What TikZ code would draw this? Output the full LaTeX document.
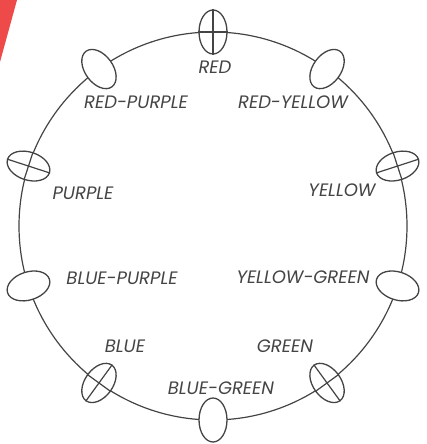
\documentclass[tikz,border=0pt]{standalone}
\usepackage{fontspec}
\setsansfont{Poppins}
\usepackage{tikz}
\usetikzlibrary{calc,shapes.geometric}
\definecolor{ink}{HTML}{444444}
\definecolor{hue}{HTML}{EE4A4A}

\begin{document}
\begin{tikzpicture}[x=1pt,y=-1pt,
    hoop/.style={draw=ink,line width=1.3pt,fill=white,ellipse,inner sep=0pt,
                 minimum width=44pt,minimum height=28pt},
    bar/.style={draw=ink,line width=1.2pt},
    huelabel/.style={text=ink,font=\sffamily\fontsize{18}{20}\selectfont\itshape,inner sep=0pt}]
        % wheel of ten hues, 36 degrees apart, centre (213,226), radius 194
        % (y points down here, so the position angles are turned round)
        \useasboundingbox (0,0) rectangle (427,444);
        \fill[hue] (0,0) -- (17,0) -- (0,62) -- cycle;

        \coordinate (O) at (213,226);
        \draw[draw=ink,line width=1.2pt] (O) circle (194);

        % the ellipses, long axis along the radius
        \foreach \a/\n in {90/r,54/ry,18/y,-18/yg,-54/g,-90/bg,-126/b,-162/bp,162/p,126/rp}
            \node[hoop,rotate=\a] (\n) at ($(O)+({-\a}:194)$) {};

        % primaries are crossed
        \foreach \n in {r,y,g,b,p}
            \draw[bar] (\n.north) -- (\n.south) (\n.east) -- (\n.west);

        \node[huelabel] (lr)  at (215,67)  {RED};
        \node[huelabel] (lrp) at (136,102) {RED-PURPLE};
        \node[huelabel] (lry) at (293,102) {RED-YELLOW};
        \node[huelabel] (lp)  at (83,193)  {PURPLE};
        \node[huelabel] (ly)  at (342,190) {YELLOW};
        \node[huelabel] (lbp) at (122,278) {BLUE-PURPLE};
        \node[huelabel] (lyg) at (303,277) {YELLOW-GREEN};
        \node[huelabel] (lb)  at (125,346) {BLUE};
        \node[huelabel] (lg)  at (285,346) {GREEN};
        \node[huelabel] (lbg) at (221,388) {BLUE-GREEN};

    \end{tikzpicture}
\end{document}
